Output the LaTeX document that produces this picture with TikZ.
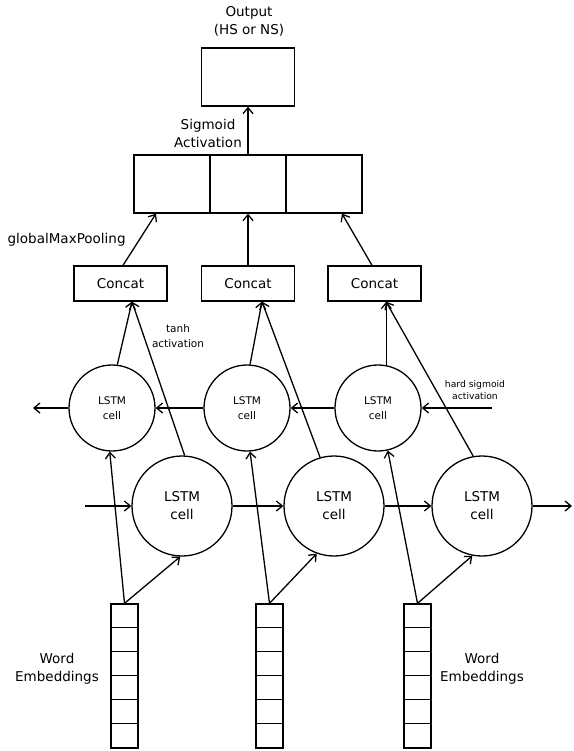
\documentclass[tikz,border=0pt]{standalone}
\usepackage{fontspec}
\setmainfont{DejaVu Sans}
\usetikzlibrary{arrows.meta,calc}
\begin{document}
\begin{tikzpicture}[x=1pt,y=-1pt,
  line width=1.3pt,
  >={Straight Barb[length=6pt,width=10pt]},
  box/.style={draw,rectangle,inner sep=0pt},
  bigcell/.style={draw,circle,inner sep=0pt,minimum size=100pt,align=center,font=\fontsize{13.5}{18}\selectfont},
  smallcell/.style={draw,circle,inner sep=0pt,minimum size=86pt,align=center,font=\fontsize{10.5}{14.5}\selectfont},
  lbl/.style={inner sep=0pt,align=center,font=\fontsize{13.5}{18}\selectfont},
  smalllbl/.style={inner sep=0pt,align=center,font=\fontsize{10.5}{15}\selectfont},
  tinylbl/.style={inner sep=0pt,align=center,font=\fontsize{9.2}{12}\selectfont},
  concat/.style={box,minimum width=93pt,minimum height=35pt,font=\fontsize{13.5}{16}\selectfont},
  embed/.style={box,minimum width=27pt,minimum height=144pt},
  sig/.style={box,minimum width=76pt,minimum height=58pt}
]
\useasboundingbox (0,0) rectangle (573,751);

% output and sigmoid layer
\node[box,minimum width=93pt,minimum height=58pt] (out) at (248,77) {};
\node[lbl] (outlbl) at (249,21) {Output\\(HS or NS)};
\node[sig] (s1) at (172,184) {};
\node[sig] (s2) at (248,184) {};
\node[sig] (s3) at (324,184) {};
\node[lbl] (siglbl) at (208,133) {Sigmoid\\Activation};
\node[lbl,anchor=west] (gmp) at (7,240) {globalMaxPooling};

% concat
\node[concat] (c1) at (120.5,283.5) {Concat};
\node[concat] (c2) at (248,283.5) {Concat};
\node[concat] (c3) at (374.5,283.5) {Concat};

% backward LSTM cells
\node[smallcell] (u1) at (112,408) {LSTM\\cell};
\node[smallcell] (u2) at (247,408) {LSTM\\cell};
\node[smallcell] (u3) at (378,408) {LSTM\\cell};

% forward LSTM cells
\node[bigcell] (l1) at (182,506) {LSTM\\cell};
\node[bigcell] (l2) at (334,506) {LSTM\\cell};
\node[bigcell] (l3) at (482,506) {LSTM\\cell};

\node[smalllbl] (tanh) at (178,336) {tanh\\activation};
\node[tinylbl] (hsig) at (475,390) {hard sigmoid\\activation};

% embeddings
\node[embed] (e1) at (124.5,676) {};
\node[embed] (e2) at (269.5,676) {};
\node[embed] (e3) at (417.5,676) {};
\foreach \e in {e1,e2,e3}{
  \foreach \k in {1,...,5}{
    \draw ($(\e.north west)+(0,24*\k)$) -- ($(\e.north east)+(0,24*\k)$);
  }
}
\node[lbl] (we1) at (57,669) {Word\\Embeddings};
\node[lbl] (we2) at (482,669) {Word\\Embeddings};

% free ends
\coordinate (uin) at (492,408);
\coordinate (uout) at (33,408);
\coordinate (lin) at (85,506);
\coordinate (lout) at (572,506);

% recurrent arrows
\draw[->] (uin) -- (u3);
\draw[->] (u3) -- (u2);
\draw[->] (u2) -- (u1);
\draw[->] (u1) -- (uout);
\draw[->] (lin) -- (l1);
\draw[->] (l1) -- (l2);
\draw[->] (l2) -- (l3);
\draw[->] (l3) -- (lout);

% cells to concat
\draw[->] (u1.83) -- ($(c1.south)+(11.5,0)$);
\draw[->] (l1.87) -- ($(c1.south)+(11.5,0)$);
\draw[->] (u2.86) -- ($(c2.south)+(14,0)$);
\draw[->] (l2.106) -- ($(c2.south)+(14,0)$);
\draw[->] (u3.79) -- (u3.79 |- c3.south);
\draw[->] (l3.100) -- ($(c3.south)+(11.5,0)$);

% concat to sigmoid
\draw[->] ($(c1.north)+(2.5,0)$) -- ($(s1.south)+(-16,0)$);
\draw[->] (c2.north) -- (s2.south);
\draw[->] ($(c3.north)+(-2.5,0)$) -- ($(s3.south)+(18,0)$);
\draw[->] (s2.north) -- (out.south);

% embeddings to cells
\draw[->] (e1.north) -- (u1.267);
\draw[->] (e1.north) -- (l1.268);
\draw[->] (e2.north) -- (u2.274);
\draw[->] (e2.north) -- (l2.250);
\draw[->] (e3.north) -- (u3.283);
\draw[->] (e3.north) -- (l3.259);
\end{tikzpicture}
\end{document}
